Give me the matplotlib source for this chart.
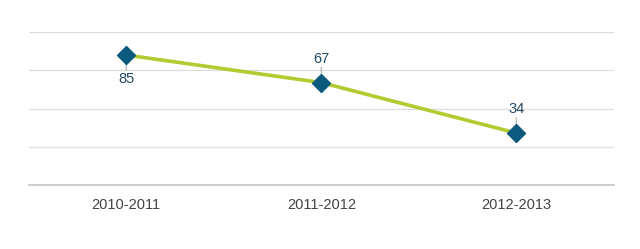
import matplotlib
matplotlib.use("Agg")
import matplotlib.pyplot as plt

categories = ["2010-2011", "2011-2012", "2012-2013"]
values = [85, 67, 34]
label_below = [True, False, False]

plt.rcParams['font.family'] = ['Liberation Sans', 'DejaVu Sans']

fig = plt.figure(figsize=(6.4, 2.49), dpi=100)
ax = fig.add_axes([0.045, 0.257, 0.914, 0.614])

x = list(range(len(categories)))
ax.plot(x, values, color="#b5c930", linewidth=2.6, zorder=3,
        solid_capstyle="butt")
ax.plot(x, values, linestyle="none", marker="D", markersize=9,
        markerfacecolor="#0d5a7f", markeredgecolor="#0d5a7f", zorder=4)

for xi, v, below in zip(x, values, label_below):
    sign = -1 if below else 1
    ax.annotate("", xy=(xi, v), xytext=(0, sign * 11), textcoords="offset points",
                arrowprops=dict(arrowstyle="-", color="#aaaaaa", lw=0.8,
                                shrinkA=0, shrinkB=0), zorder=2)
    ax.annotate(str(v), xy=(xi, v), xytext=(0, sign * 12), textcoords="offset points",
                ha="center", va="top" if below else "bottom",
                fontsize=10.5, color="#234a63", zorder=5)

ax.set_xlim(-0.5, len(categories) - 0.5)
ax.set_ylim(0, 100)
ax.set_yticks([0, 25, 50, 75, 100])
ax.yaxis.grid(True, color="#dedede", linewidth=0.9)
ax.set_axisbelow(True)
ax.tick_params(axis="y", left=False, labelleft=False)
ax.set_xticks(x)
ax.set_xticklabels(categories, fontsize=10.5, color="#444444")
ax.tick_params(axis="x", length=0, pad=9)
for s in ["left", "right", "top"]:
    ax.spines[s].set_visible(False)
ax.spines["bottom"].set_color("#c4c4c4")
ax.spines["bottom"].set_linewidth(1.2)

fig.savefig("out.png", dpi=100, facecolor="white")
